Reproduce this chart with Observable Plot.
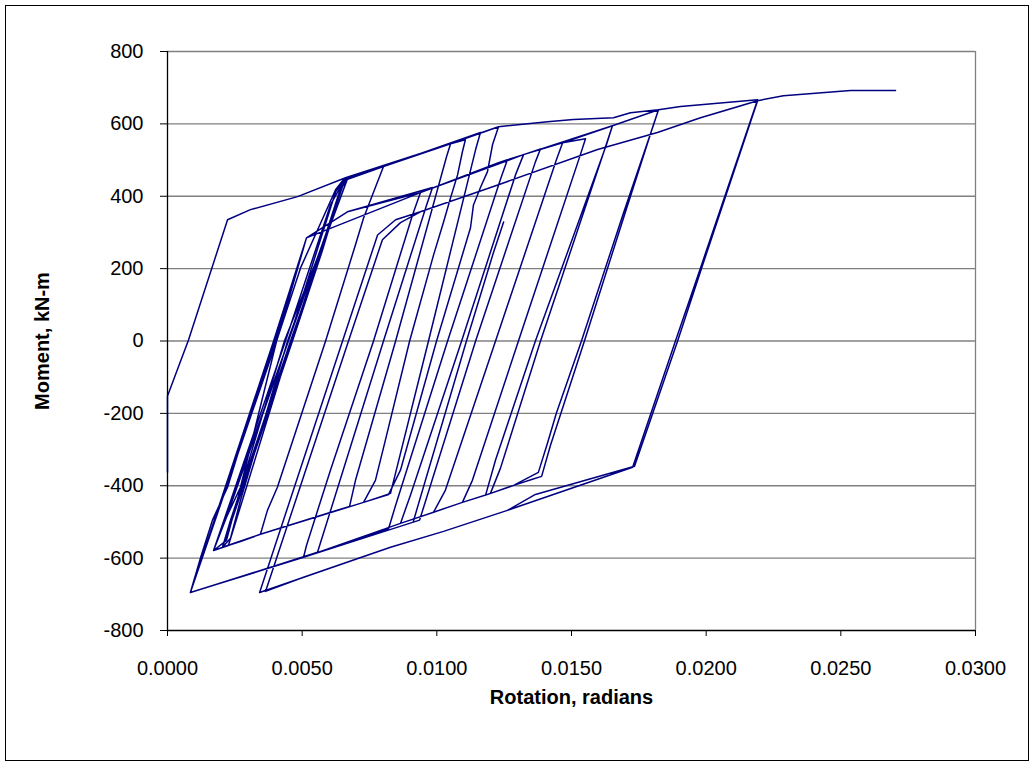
<!DOCTYPE html>
<html>
<head>
<meta charset="utf-8">
<script src="https://cdn.jsdelivr.net/npm/d3@7"></script>
<script src="https://cdn.jsdelivr.net/npm/@observablehq/plot@0.6"></script>
<style>
  html, body { margin: 0; padding: 0; background: #ffffff; }
  #wrap { position: relative; width: 1034px; height: 766px; overflow: hidden; }
  #wrap svg { display: block; }
  #border { position: absolute; left: 5px; top: 5px; width: 1022px; height: 754px; border: 1px solid #000; pointer-events: none; }
</style>
</head>
<body>
<div id="wrap"><div id="border"></div></div>
<script>
// Tick values
const xTicks = [0, 0.005, 0.010, 0.015, 0.020, 0.025, 0.030];
const yTicks = [-800, -600, -400, -200, 0, 200, 400, 600, 800];
const yGrid = [-600, -400, -200, 0, 200, 400, 600, 800];

// Initial loading
const rot0 = [0, 0, 0.00078, 0.00223, 0.00308, 0.00483, 0.00661];
const mom0 = [-363, -152, 3, 335, 363, 399, 451];

// Early cycles (upper envelope)
const rotA = [
  0.00605, 0.00460, 0.00290, 0.00226, 0.00171, 0.00219, 0.00271, 0.00405, 0.00494, 0.00624, 0.00653,
  0.00587, 0.00446, 0.00271, 0.00234, 0.00204, 0.00234, 0.00457, 0.00568, 0.00642, 0.00668,
  0.00598, 0.00434, 0.00264, 0.00219, 0.00171, 0.00438, 0.00605, 0.00661, 0.00802,
  0.00780, 0.00728, 0.00698, 0.00587, 0.00408, 0.00371, 0.00345, 0.00271, 0.00204, 0.00245, 0.00464, 0.00576, 0.00653, 0.00802, 0.01051, 0.01106,
  0.01095, 0.01077, 0.01051, 0.01025, 0.00988, 0.00899, 0.00809, 0.00772, 0.00728, 0.00345, 0.00171, 0.00219, 0.00449, 0.00624, 0.00661, 0.01051,
  0.01036, 0.00847, 0.00698, 0.00676, 0.00345, 0.00204, 0.00245, 0.00464, 0.00653, 0.00802, 0.01162,
  0.01144, 0.00969, 0.00828, 0.00728, 0.00345, 0.00171, 0.00449, 0.00661, 0.01051, 0.01229,
  0.01207, 0.01188, 0.01162, 0.01136, 0.01125, 0.00999, 0.00865, 0.00821, 0.00728, 0.00345, 0.00204, 0.00460, 0.00653, 0.00802, 0.01229, 0.01411, 0.01507, 0.01656, 0.01719, 0.01823
];
const momA = [
  329, 0, -412, -565, -579, -487, -404, 0, 202, 418, 446,
  293, 0, -440, -545, -570, -495, 0, 238, 418, 448,
  307, 0, -426, -551, -579, 0, 376, 451, 482,
  440, 340, 266, 0, -404, -468, -534, -554, -570, -482, 0, 252, 443, 482, 545, 556,
  523, 459, 396, 329, 238, 0, -274, -385, -446, -534, -579, -487, 0, 412, 451, 545,
  509, 0, -385, -457, -534, -570, -482, 0, 443, 482, 576,
  529, 0, -421, -446, -534, -579, 0, 451, 545, 592,
  543, 468, 424, 376, 313, 0, -357, -424, -446, -534, -570, 0, 446, 482, 592, 606, 612, 617, 631, 639
];

// Middle cycles (second upper line)
const rotB = [
  0.01805, 0.01693, 0.01537, 0.01444, 0.01411, 0.01377, 0.01285, 0.01181, 0.01095, 0.00988, 0.00865, 0.00505, 0.00171, 0.00085, 0.00123, 0.00167, 0.00223, 0.00308, 0.00401, 0.00516, 0.00668, 0.00939,
  0.00910, 0.00765, 0.00605, 0.00516, 0.00505, 0.00171, 0.00085, 0.00394, 0.00516, 0.00668, 0.00984, 0.00962, 0.00802, 0.00557, 0.00171, 0.00085, 0.00405, 0.00516, 0.00939, 0.01229, 0.01262,
  0.01236, 0.01040, 0.00847, 0.00821, 0.00505, 0.00171, 0.00085, 0.00397, 0.00516, 0.00939, 0.01229, 0.01322,
  0.01292, 0.01092, 0.00902, 0.00865, 0.00505, 0.00171, 0.00085, 0.00401, 0.00516, 0.00939, 0.01322, 0.01385, 0.01366, 0.01144, 0.00936, 0.00505, 0.00171, 0.00085, 0.00397, 0.00516, 0.00939, 0.01322, 0.01467
];
const momB = [
  598, 354, 0, -199, -282, -363, -399, -426, -446, -473, -504, -598, -675, -695, -598, -495, -404, -199, 0, 285, 357, 410,
  349, 0, -357, -565, -598, -675, -695, 0, 285, 357, 424, 376, 0, -584, -675, -695, 0, 285, 410, 493, 501,
  446, 0, -454, -518, -598, -675, -695, 0, 285, 410, 493, 515,
  459, 0, -426, -504, -598, -675, -695, 0, 285, 410, 515, 531, 495, 0, -495, -598, -675, -695, 0, 285, 410, 515, 548
];

// Later cycles
const rotC = [
  0.01444, 0.01218, 0.01032, 0.00988, 0.00865, 0.00505, 0.00171, 0.00085, 0.00397, 0.00516, 0.00939, 0.01322, 0.01467, 0.01552,
  0.01533, 0.01303, 0.01132, 0.01095, 0.00988, 0.00865, 0.00505, 0.00171, 0.00085, 0.00401, 0.00516, 0.00939, 0.01322, 0.01467, 0.01652,
  0.01630, 0.01366, 0.01218, 0.01181, 0.01095, 0.00988, 0.00865, 0.00505, 0.00171, 0.00085, 0.00397, 0.00516, 0.00939, 0.01322, 0.01652,
  0.01623, 0.01385, 0.01236, 0.01199, 0.01095, 0.00988, 0.00865, 0.00505, 0.00171, 0.00085, 0.00401, 0.00516, 0.00939, 0.01322, 0.01652, 0.01823,
  0.01801, 0.01697, 0.01548, 0.01422, 0.01389, 0.01355, 0.01285, 0.01181, 0.01095, 0.00988, 0.00865, 0.00505, 0.00171, 0.00085, 0.00397, 0.00516, 0.00939, 0.01322, 0.01652, 0.01823, 0.01905, 0.01979, 0.02191
];
const momC = [
  501, 0, -412, -473, -504, -598, -675, -695, 0, 285, 410, 515, 548, 559,
  515, 0, -385, -446, -473, -504, -598, -675, -695, 0, 285, 410, 515, 548, 595,
  543, 0, -329, -426, -446, -473, -504, -598, -675, -695, 0, 285, 410, 515, 595,
  529, 0, -352, -421, -446, -473, -504, -598, -675, -695, 0, 285, 410, 515, 595, 639,
  590, 349, 0, -288, -374, -382, -399, -426, -446, -473, -504, -598, -675, -695, 0, 285, 410, 515, 595, 639, 648, 653, 667
];

// Final large cycles
const rotD = [
  0.01979, 0.01886, 0.01727, 0.01262, 0.01025, 0.00828, 0.00505, 0.00364, 0.00672, 0.00798, 0.00865, 0.00939, 0.01229, 0.01597, 0.01819, 0.01979, 0.02042, 0.02191,
  0.01986, 0.01894, 0.01734, 0.01366, 0.01262, 0.01025, 0.00828, 0.00342, 0.00650, 0.00780, 0.00847, 0.00939, 0.01229, 0.01597, 0.01819, 0.01979, 0.02191, 0.02287, 0.02536, 0.02703
];
const momD = [
  202, 0, -349, -468, -526, -570, -653, -692, 0, 280, 327, 357, 432, 529, 576, 617, 631, 664,
  208, 0, -346, -424, -468, -526, -570, -695, 0, 293, 335, 357, 432, 529, 576, 617, 664, 678, 692, 692
];

// Short separate trace
const rotE = [0.01248, 0.01210, 0.01110, 0.00913];
const momE = [329, 244, 0, -498];

const records = [];
[[rot0, mom0], [rotA, momA], [rotB, momB], [rotC, momC], [rotD, momD]].forEach(([r, m]) =>
  r.forEach((v, i) => records.push({rotation: v, moment: m[i], trace: "main"})));
rotE.forEach((v, i) => records.push({rotation: v, moment: momE[i], trace: "short"}));

const chart = Plot.plot({
  width: 1034,
  height: 766,
  marginLeft: 167,
  marginRight: 59,
  marginTop: 51,
  marginBottom: 136,
  style: {fontFamily: "'Liberation Sans', Arial, sans-serif", fontSize: "20px", background: "#ffffff", color: "#000000"},
  x: {domain: [0, 0.03], ticks: xTicks, tickFormat: d => d.toFixed(4), tickSize: 6, tickPadding: 24, label: null},
  y: {domain: [-800, 800], ticks: yTicks, tickFormat: d => String(d), tickSize: 7, tickPadding: 17, label: null},
  marks: [
    Plot.ruleY(yGrid, {stroke: "#808080", strokeWidth: 1.3}),
    Plot.ruleX([0.03], {stroke: "#808080", strokeWidth: 1.3}),
    Plot.line(records, {x: "rotation", y: "moment", z: "trace", stroke: "#000080", strokeWidth: 1.5}),
    Plot.ruleX([0], {stroke: "#000000", strokeWidth: 1.3}),
    Plot.ruleY([-800], {stroke: "#000000", strokeWidth: 1.3}),
    Plot.text(["Rotation, radians"], {frameAnchor: "bottom", textAnchor: "middle", lineAnchor: "middle", dy: 67, fontWeight: "bold", fontSize: 20}),
    Plot.text(["Moment, kN-m"], {frameAnchor: "left", textAnchor: "middle", lineAnchor: "middle", dx: -125, rotate: -90, fontWeight: "bold", fontSize: 20})
  ]
});
document.getElementById("wrap").prepend(chart);
</script>
</body>
</html>
